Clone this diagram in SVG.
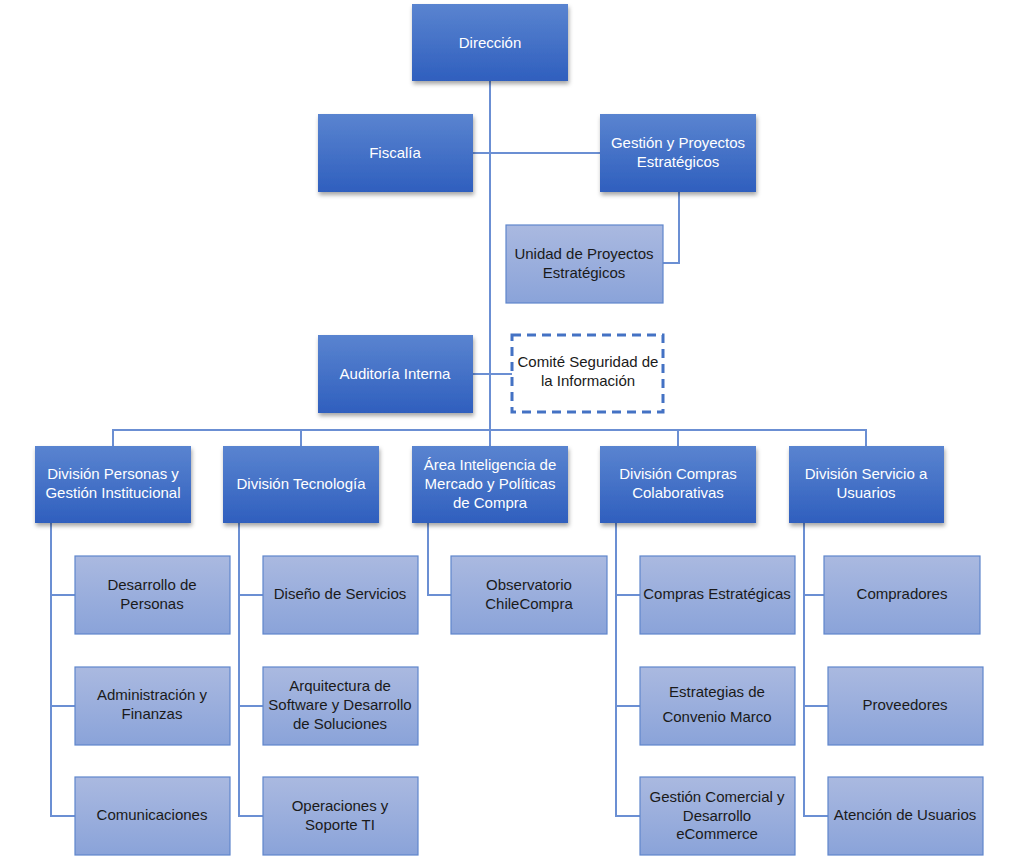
<svg xmlns="http://www.w3.org/2000/svg" width="1024" height="856" viewBox="0 0 1024 856">
<defs>
<linearGradient id="gd" x1="0" y1="0" x2="0" y2="1"><stop offset="0" stop-color="#5A84D0"/><stop offset="1" stop-color="#2F5FBE"/></linearGradient>
<linearGradient id="gl" x1="0" y1="0" x2="0" y2="1"><stop offset="0" stop-color="#AAB9E0"/><stop offset="1" stop-color="#8AA3D9"/></linearGradient>
<filter id="sh" x="-10%" y="-10%" width="125%" height="130%"><feDropShadow dx="1" dy="3" stdDeviation="2" flood-color="#000" flood-opacity="0.35"/></filter>
<style>
.d{fill:url(#gd);filter:url(#sh)}
.l{fill:url(#gl);stroke:#5F86CC;stroke-width:1.2}
.dash{fill:#fff;stroke:#4472C4;stroke-width:3;stroke-dasharray:9 6}
text{font-family:"Liberation Sans",Arial,sans-serif;font-size:15px;text-anchor:middle}
.w{fill:#fff}
.k{fill:#1a1a1a}
.c{fill:none;stroke:#6B8FD3;stroke-width:2}
</style>
</defs>
<g id="connectors">
<path class="c" d="M490 81V430"/>
<path class="c" d="M473 153H600"/>
<path class="c" d="M679 192V263H663"/>
<path class="c" d="M473 374H512"/>
<path class="c" d="M113 446V430H866V446M301 430V446M490 430V446M678 430V446"/>
<path class="c" d="M51 523V816H75M51 595H75M51 706H75"/>
<path class="c" d="M239 523V816H263M239 595H263M239 706H263"/>
<path class="c" d="M428 523V595H451"/>
<path class="c" d="M616 523V816H640M616 595H640M616 706H640"/>
<path class="c" d="M804 523V816H828M804 595H824M804 706H828"/>
</g>
<g id="direccion"><rect class="d" x="412" y="4" width="156" height="77"/><text class="w" x="490" y="48">Dirección</text></g>
<g id="fiscalia"><rect class="d" x="318" y="114" width="155" height="78"/><text class="w" x="395" y="158">Fiscalía</text></g>
<g id="gestion"><rect class="d" x="600" y="114" width="156" height="78"/><text class="w" x="678" y="148">Gestión y Proyectos</text><text class="w" x="678" y="167">Estratégicos</text></g>
<g id="unidad"><rect class="l" x="506" y="225" width="157" height="78"/><text class="k" x="584" y="259">Unidad de Proyectos</text><text class="k" x="584" y="278">Estratégicos</text></g>
<g id="auditoria"><rect class="d" x="318" y="335" width="155" height="78"/><text class="w" x="395" y="379">Auditoría Interna</text></g>
<g id="comite"><rect class="dash" x="512" y="335" width="151" height="77"/><text class="k" x="588" y="367">Comité Seguridad de</text><text class="k" x="588" y="386">la Información</text></g>
<g id="div-personas"><rect class="d" x="35" y="446" width="156" height="77"/><text class="w" x="113" y="479">División Personas y</text><text class="w" x="113" y="498">Gestión Institucional</text></g>
<g id="div-tecnologia"><rect class="d" x="223" y="446" width="156" height="77"/><text class="w" x="301" y="489">División Tecnología</text></g>
<g id="area-inteligencia"><rect class="d" x="412" y="446" width="156" height="77"/><text class="w" x="490" y="470">Área Inteligencia de</text><text class="w" x="490" y="489">Mercado y Políticas</text><text class="w" x="490" y="508">de Compra</text></g>
<g id="div-compras"><rect class="d" x="600" y="446" width="156" height="77"/><text class="w" x="678" y="479">División Compras</text><text class="w" x="678" y="498">Colaborativas</text></g>
<g id="div-servicio"><rect class="d" x="789" y="446" width="155" height="77"/><text class="w" x="866" y="479">División Servicio a</text><text class="w" x="866" y="498">Usuarios</text></g>
<g id="desarrollo-personas"><rect class="l" x="75" y="556" width="155" height="78"/><text class="k" x="152" y="590">Desarrollo de</text><text class="k" x="152" y="609">Personas</text></g>
<g id="administracion"><rect class="l" x="75" y="667" width="155" height="78"/><text class="k" x="152" y="700">Administración y</text><text class="k" x="152" y="719">Finanzas</text></g>
<g id="comunicaciones"><rect class="l" x="75" y="777" width="155" height="78"/><text class="k" x="152" y="820">Comunicaciones</text></g>
<g id="diseno"><rect class="l" x="263" y="556" width="155" height="78"/><text class="k" x="340" y="599">Diseño de Servicios</text></g>
<g id="arquitectura"><rect class="l" x="263" y="667" width="155" height="78"/><text class="k" x="340" y="691">Arquitectura de</text><text class="k" x="340" y="710">Software y Desarrollo</text><text class="k" x="340" y="729">de Soluciones</text></g>
<g id="operaciones"><rect class="l" x="263" y="777" width="155" height="78"/><text class="k" x="340" y="811">Operaciones y</text><text class="k" x="340" y="830">Soporte TI</text></g>
<g id="observatorio"><rect class="l" x="451" y="556" width="156" height="78"/><text class="k" x="529" y="590">Observatorio</text><text class="k" x="529" y="609">ChileCompra</text></g>
<g id="compras-estrategicas"><rect class="l" x="640" y="556" width="155" height="78"/><text class="k" x="717" y="599">Compras Estratégicas</text></g>
<g id="estrategias-cm"><rect class="l" x="640" y="667" width="155" height="78"/><text class="k" x="717" y="697">Estrategias de</text><text class="k" x="717" y="722">Convenio Marco</text></g>
<g id="gestion-comercial"><rect class="l" x="640" y="777" width="155" height="78"/><text class="k" x="717" y="802">Gestión Comercial y</text><text class="k" x="717" y="821">Desarrollo</text><text class="k" x="717" y="839">eCommerce</text></g>
<g id="compradores"><rect class="l" x="824" y="556" width="156" height="78"/><text class="k" x="902" y="599">Compradores</text></g>
<g id="proveedores"><rect class="l" x="828" y="667" width="155" height="78"/><text class="k" x="905" y="710">Proveedores</text></g>
<g id="atencion"><rect class="l" x="828" y="777" width="155" height="78"/><text class="k" x="905" y="820">Atención de Usuarios</text></g>
</svg>
